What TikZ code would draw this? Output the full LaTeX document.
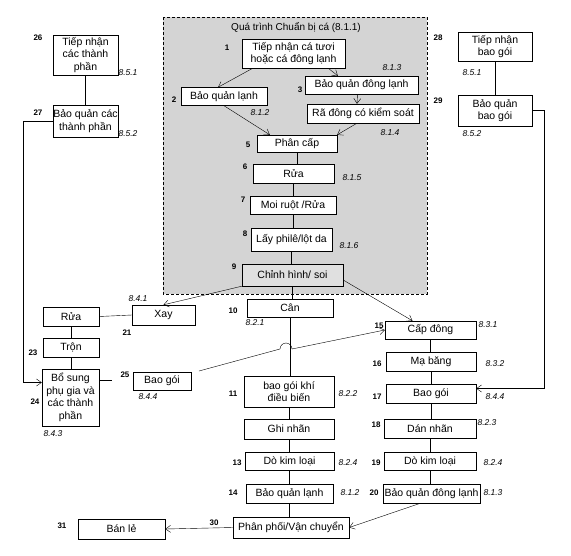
\documentclass[tikz,border=0pt]{standalone}
\usepackage{fontspec}
\setmainfont{Liberation Sans}
\usetikzlibrary{arrows.meta}

\begin{document}
\begin{tikzpicture}[x=1pt,y=-1pt,thin,
    box/.style={draw,fill=white,align=center,inner xsep=0.5pt,inner ysep=1pt,
        font=\fontsize{10.5}{12.5}\selectfont},
    sz/.style 2 args={minimum width=#1pt,minimum height=#2pt},
    num/.style={font=\fontsize{8}{9}\selectfont\bfseries},
    refno/.style={font=\fontsize{8.5}{9}\selectfont\itshape},
    arr/.style={-{Straight Barb[length=5pt,width=7pt]}}
    ]
    \useasboundingbox (0,0) rectangle (571,555);

    % fish preparation area
    \fill[black!17] (163,17) rectangle (427,294);
    \draw[dash pattern=on 3pt off 2pt] (163,17) rectangle (427,294);
    \node (title) at (296,27) [font=\fontsize{10}{12}\selectfont] {Quá trình Chuẩn bị cá (8.1.1)};

    \node[box,sz={103}{29}] (n1) at (293.5,53.5) {Tiếp nhận cá tươi\\hoặc cá đông lạnh};
    \node[box,sz={86}{18}] (n2) at (224,96.5) {Bảo quản lạnh};
    \node[box,sz={113}{18}] (n3) at (361.5,85) {Bảo quản đông lạnh};
    \node[box,sz={112}{19}] (n4) at (363,113.5) {Rã đông có kiểm soát};
    \node[box,sz={80}{17}] (n5) at (297,143.5) {Phân cấp};
    \node[box,sz={81}{19}] (n6) at (293.5,173.5) {Rửa};
    \node[box,sz={86}{18}] (n7) at (293,205) {Moi ruột /Rửa};
    \node[box,sz={81}{23}] (n8) at (291.5,239.5) {Lấy philê/lột da};
    \node[box,fill=black!12,sz={101}{22}] (n9) at (292.5,275) {Chỉnh hình/ soi};

    % chilled line
    \node[box,sz={86}{18}] (n10) at (290,308) {Cân};
    \node[box,sz={90}{31}] (n11) at (289,391.5) {bao gói khí\\điều biến};
    \node[box,sz={90}{20}] (n12) at (289,429) {Ghi nhãn};
    \node[box,sz={89}{18}] (n13) at (289.5,461) {Dò kim loại};
    \node[box,sz={87}{19}] (n14) at (289.5,493.5) {Bảo quản lạnh};
    \node[box,sz={116}{21}] (n30) at (291,527.5) {Phân phối/Vận chuyển};
    \node[box,sz={87}{20}] (n31) at (121.5,529) {Bán lẻ};

    % frozen line
    \node[box,sz={91}{18}] (n15) at (430.5,330) {Cấp đông};
    \node[box,sz={90}{19}] (n16) at (431,361.5) {Mạ băng};
    \node[box,sz={90}{19}] (n17) at (431,393.5) {Bao gói};
    \node[box,sz={92}{19}] (n18) at (430,428.5) {Dán nhãn};
    \node[box,sz={92}{18}] (n19) at (430,461) {Dò kim loại};
    \node[box,sz={97}{19}] (n20) at (431.5,493.5) {Bảo quản đông lạnh};

    % minced line
    \node[box,sz={63}{20}] (n21) at (163.5,315) {Xay};
    \node[box,sz={56}{19}] (n22) at (71,316.5) {Rửa};
    \node[box,sz={56}{19}] (n23) at (71,347.5) {Trộn};
    \node[box,sz={57}{57}] (n24) at (70.5,397.5) {Bổ sung\\phụ gia và\\các thành\\phần};
    \node[box,sz={58}{18}] (n25) at (162,381) {Bao gói};

    % ingredients and packaging
    \node[box,sz={65}{40}] (n26) at (85.5,55) {Tiếp nhận\\các thành\\phần};
    \node[box,sz={65}{32}] (n27) at (85.5,121) {Bảo quản các\\thành phần};
    \node[box,sz={74}{29}] (n28) at (495,46.5) {Tiếp nhận\\bao gói};
    \node[box,sz={74}{31}] (n29) at (495,110.5) {Bảo quản\\bao gói};

    % step numbers
    \foreach \t/\x/\y in {1/227/48, 2/174/100, 3/300/90, 5/248/145, 6/245/167,
        7/243/200, 8/245/234, 9/234/267, 10/233/311, 11/233/394, 13/237/463,
        14/233/493, 15/379/326, 16/377/364, 17/377/397, 18/376/425, 19/376/463,
        20/374/493, 21/127/333, 23/33/353, 24/35/402, 25/125/375, 26/38/38,
        27/38/113, 28/438/38, 29/438/101, 30/214/523, 31/62/526}
        \node[num] (s\t) at (\x,\y) {\t};

    % clause references
    \foreach \t/\x/\y [count=\i] in {8.1.2/260/113, 8.1.3/392/68, 8.1.4/390/133,
        8.1.5/352/178, 8.1.6/349/246, 8.2.1/255/323, 8.2.2/348/394, 8.2.4/348/463,
        8.1.2/350/493, 8.3.1/488/325, 8.3.2/495/364, 8.4.4/495/397, 8.2.3/487/423,
        8.2.4/493/463, 8.1.3/493/493, 8.4.1/138/299, 8.4.4/148/397, 8.4.3/53/434,
        8.5.1/128/73, 8.5.2/128/134, 8.5.1/472/73, 8.5.2/472/134}
        \node[refno] (r\i) at (\x,\y) {\t};

    % straight links
    \foreach \a/\b in {n5/n6, n6/n7, n7/n8, n8/n9, n9/n10, n10/n11, n11/n12,
        n12/n13, n13/n14, n14/n30, n15/n16, n16/n17, n17/n18, n18/n19, n19/n20,
        n22/n23, n23/n24, n26/n27, n28/n29}
        \draw (\a.south) -- (\a.south |- \b.north);
    \draw (n21.west) -- (n22.east);
    \coordinate (c24) at (112,380);
    \draw (n24.east |- c24) -- (c24);

    % arrows
    \draw[arr] ([xshift=11pt]n1.south west) -- ([xshift=-6pt]n2.north);
    \draw[arr] ([xshift=-17pt]n1.south east) -- ([xshift=33pt]n3.north west);
    \draw[arr] ([xshift=-4pt]n3.south) -- ([xshift=-6pt]n4.north);
    \draw[arr] (n2.south) -- ([xshift=13pt]n5.north west);
    \draw[arr] ([xshift=-6pt]n4.south) -- (n5.north east);
    \draw[arr] (n9.south west) -- (n21.north);
    \draw[arr] ([yshift=-5pt]n9.east) -- ([xshift=-18pt]n15.north);
    \coordinate (c25) at (199,371);
    \draw[arr] (c25) -- (280,349) arc[start angle=180,end angle=0,radius=6pt] -- (n15.west);
    \draw[arr] (n27.west) -- ++(-29,0) |- ([yshift=15pt]n24.west);
    \draw[arr] (n29.east) -- ++(12,0) |- ([yshift=5pt]n17.east);
    \draw[arr] ([xshift=-11pt]n20.south) -- (n30.east);
    \draw[arr] (n30.west) -- (n31.east);

\end{tikzpicture}
\end{document}
